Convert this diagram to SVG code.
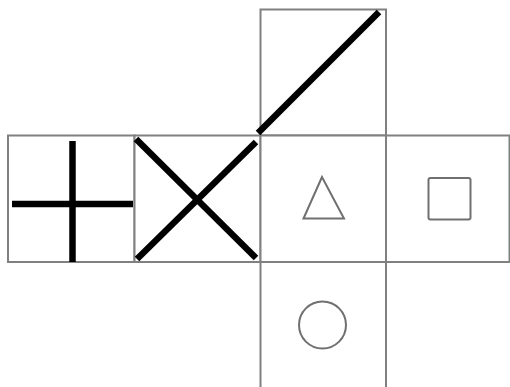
<svg xmlns="http://www.w3.org/2000/svg" width="510" height="387" viewBox="0 0 510 387">
<style>
.face{fill:#fff;stroke:#808080;stroke-width:2}
.thick{stroke:#000;stroke-width:6.5;stroke-linecap:butt;fill:none}
.sym{fill:none;stroke:#707070;stroke-width:2}
</style>
<rect width="510" height="387" fill="#fff"/>
<g id="face-top"><rect class="face" x="260.5" y="9.5" width="125.5" height="126"/></g>
<g id="face-left"><rect class="face" x="8" y="135.5" width="126.5" height="126.5"/></g>
<g id="face-x"><rect class="face" x="134.5" y="135.5" width="126" height="126.5"/></g>
<g id="face-front"><rect class="face" x="260.5" y="135.5" width="125.5" height="126.5"/></g>
<g id="face-right"><rect class="face" x="386" y="135.5" width="123.5" height="126.5"/></g>
<g id="face-bottom"><rect class="face" x="260.5" y="262" width="125.5" height="126"/></g>
<g id="connectors">
<line class="thick" x1="12" y1="204" x2="133" y2="204"/>
<line class="thick" x1="72.5" y1="141" x2="72.5" y2="262"/>
<line class="thick" x1="136" y1="139" x2="256" y2="258"/>
<line class="thick" x1="137" y1="259" x2="256" y2="142"/>
<line class="thick" x1="258" y1="133" x2="379" y2="12"/>
</g>
<g id="symbols">
<polygon class="sym" points="322,177 303.5,218.5 344,218.5"/>
<rect class="sym" x="428.5" y="178" width="42" height="41.5" rx="2"/>
<circle class="sym" cx="322.5" cy="325" r="23.5"/>
</g>
</svg>
